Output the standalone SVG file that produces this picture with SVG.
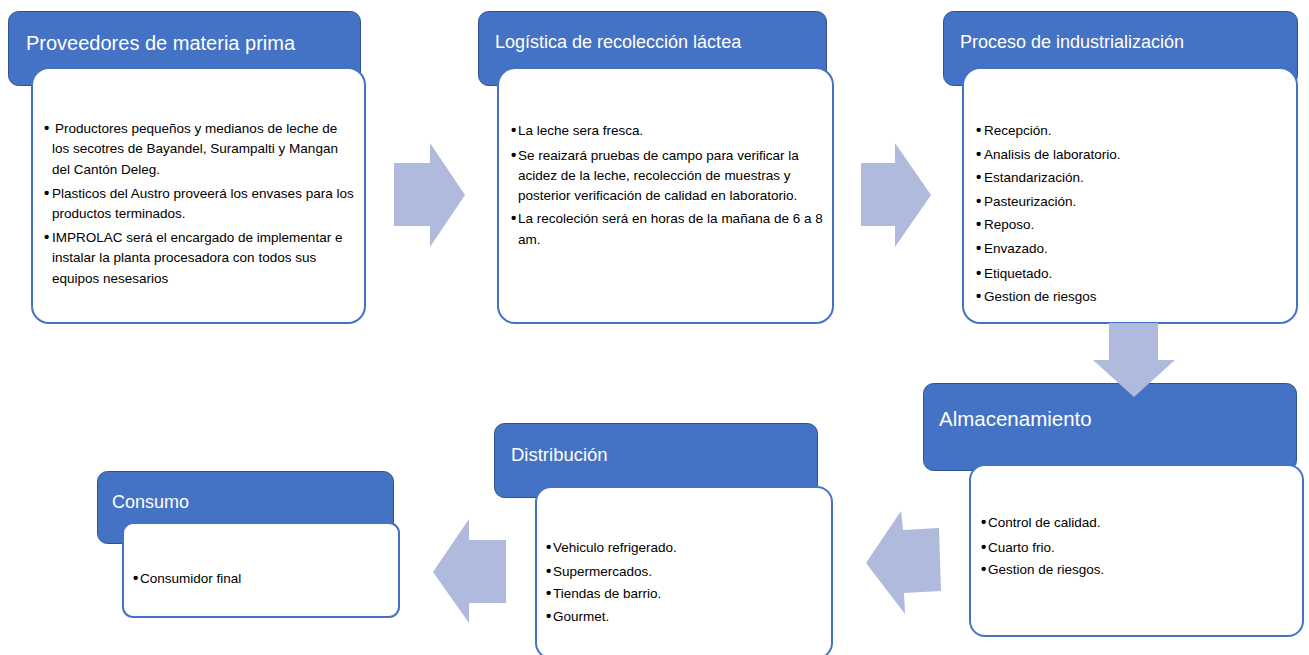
<svg xmlns="http://www.w3.org/2000/svg" width="1309" height="655" viewBox="0 0 1309 655">
<style>
.hdr{fill:#4472C4;stroke:#2F528F;stroke-width:1}
.body{fill:#FFFFFF;stroke:#4472C4;stroke-width:2}
.arrow{fill:#AFBADD}
.title{font-family:"Liberation Sans",Arial,sans-serif;fill:#FFFFFF}
.txt{font-family:"Liberation Sans",Arial,sans-serif;font-size:13.5px;fill:#000000}
.b{font-family:"Liberation Sans",Arial,sans-serif;font-size:15px;font-weight:bold;fill:#000000}
</style>
<rect width="1309" height="655" fill="#FFFFFF"/>
<g id="node-proveedores">
<rect class="hdr" x="8.5" y="11.5" width="352" height="74" rx="10"/>
<rect class="body" x="32" y="68" width="333" height="255" rx="17"/>
<text class="title" x="26" y="50" font-size="20">Proveedores de materia prima</text>
<text class="b" x="44" y="133">•</text><text class="txt" x="55" y="133">Productores pequeños y medianos de leche de</text>
<text class="txt" x="52" y="153">los secotres de Bayandel, Surampalti y Mangan</text>
<text class="txt" x="52" y="174">del Cantón Deleg.</text>
<text class="b" x="44" y="198">•</text><text class="txt" x="52" y="198">Plasticos del Austro proveerá los envases para los</text>
<text class="txt" x="52" y="218">productos terminados.</text>
<text class="b" x="44" y="242">•</text><text class="txt" x="52" y="242">IMPROLAC será el encargado de implementar e</text>
<text class="txt" x="52" y="262">instalar la planta procesadora con todos sus</text>
<text class="txt" x="52" y="283">equipos nesesarios</text>
</g>
<g id="node-logistica">
<rect class="hdr" x="478.5" y="11.5" width="348" height="74" rx="10"/>
<rect class="body" x="498" y="68" width="335" height="255" rx="17"/>
<text class="title" x="495" y="48" font-size="18">Logística de recolección láctea</text>
<text class="b" x="511" y="135">•</text><text class="txt" x="518" y="135">La leche sera fresca.</text>
<text class="b" x="511" y="160">•</text><text class="txt" x="518" y="160">Se reaizará pruebas de campo para verificar la</text>
<text class="txt" x="518" y="180">acidez de la leche, recolección de muestras y</text>
<text class="txt" x="518" y="200">posterior verificación de calidad en laboratorio.</text>
<text class="b" x="511" y="223">•</text><text class="txt" x="518" y="223">La recoleción será en horas de la mañana de 6 a 8</text>
<text class="txt" x="518" y="244">am.</text>
</g>
<g id="node-proceso">
<rect class="hdr" x="943.5" y="11.5" width="354" height="74" rx="10"/>
<rect class="body" x="963" y="68" width="334" height="255" rx="17"/>
<text class="title" x="960" y="48" font-size="18">Proceso de industrialización</text>
<text class="b" x="976" y="135">•</text><text class="txt" x="984" y="135">Recepción.</text>
<text class="b" x="976" y="159">•</text><text class="txt" x="984" y="159">Analisis de laboratorio.</text>
<text class="b" x="976" y="182">•</text><text class="txt" x="984" y="182">Estandarización.</text>
<text class="b" x="976" y="206">•</text><text class="txt" x="984" y="206">Pasteurización.</text>
<text class="b" x="976" y="229">•</text><text class="txt" x="984" y="229">Reposo.</text>
<text class="b" x="976" y="253">•</text><text class="txt" x="984" y="253">Envazado.</text>
<text class="b" x="976" y="278">•</text><text class="txt" x="984" y="278">Etiquetado.</text>
<text class="b" x="976" y="301">•</text><text class="txt" x="984" y="301">Gestion de riesgos</text>
</g>
<g id="node-almacenamiento">
<rect class="hdr" x="923.5" y="383.5" width="373" height="87" rx="10"/>
<rect class="body" x="970" y="465" width="333" height="171" rx="15"/>
<text class="title" x="939" y="426" font-size="20.5">Almacenamiento</text>
<text class="b" x="981" y="527">•</text><text class="txt" x="988" y="527">Control de calidad.</text>
<text class="b" x="981" y="552">•</text><text class="txt" x="988" y="552">Cuarto frio.</text>
<text class="b" x="981" y="574">•</text><text class="txt" x="988" y="574">Gestion de riesgos.</text>
</g>
<g id="node-distribucion">
<rect class="hdr" x="494.5" y="423.5" width="323" height="74" rx="10"/>
<rect class="body" x="536" y="487" width="296" height="171" rx="15"/>
<text class="title" x="511" y="461" font-size="18.5">Distribución</text>
<text class="b" x="546" y="552">•</text><text class="txt" x="553" y="552">Vehiculo refrigerado.</text>
<text class="b" x="546" y="576">•</text><text class="txt" x="553" y="576">Supermercados.</text>
<text class="b" x="546" y="598">•</text><text class="txt" x="553" y="598">Tiendas de barrio.</text>
<text class="b" x="546" y="621">•</text><text class="txt" x="553" y="621">Gourmet.</text>
</g>
<g id="node-consumo">
<rect class="hdr" x="97.5" y="471.5" width="296" height="72" rx="10"/>
<rect class="body" x="123" y="523" width="276" height="94" rx="10"/>
<text class="title" x="112" y="508" font-size="18">Consumo</text>
<text class="b" x="133" y="583">•</text><text class="txt" x="140" y="583">Consumidor final</text>
</g>
<g id="connectors">
<polygon class="arrow" points="394,163 430,163 430,143 465,195 430,247 430,226 394,226"/>
<polygon class="arrow" points="861,163 895,163 895,143 931,195 895,247 895,226 861,226"/>
<polygon class="arrow" points="1109,323 1158,323 1158,360 1175,360 1134,397 1093,360 1109,360"/>
<polygon class="arrow" points="866,563 901,511 903,530 939,528 941,591 904,593 905,614"/>
<polygon class="arrow" points="433,572 469,519 469,540 506,540 506,603 469,603 469,623"/>
</g>
</svg>
